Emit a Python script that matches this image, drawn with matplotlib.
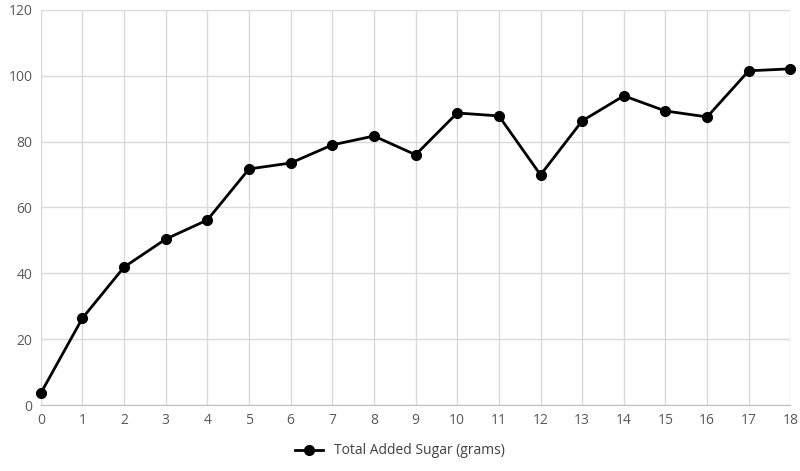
import matplotlib
matplotlib.use("Agg")
import matplotlib.pyplot as plt

x = list(range(19))
sugar = [3.6, 26.4, 41.9, 50.4, 56.2, 71.7, 73.5, 79.0, 81.7, 76.0, 88.7, 87.8, 69.9, 86.3, 93.9, 89.3, 87.5, 101.5, 102.1]

plt.rcParams['font.family'] = ['Open Sans', 'DejaVu Sans']
fig = plt.figure(figsize=(8, 4.71), dpi=100)
ax = fig.add_axes([0.051, 0.14, 0.937, 0.839])
ax.plot(x, sugar, color='black', lw=2, marker='o', ms=7, label='Total Added Sugar (grams)', clip_on=False, zorder=3)
ax.set_xlim(0, 18)
ax.set_ylim(0, 120)
ax.set_xticks(x)
ax.set_yticks(range(0, 121, 20))
ax.grid(True, color='#d9d9d9', lw=1)
ax.set_axisbelow(True)
for s in ['top', 'right', 'left']:
    ax.spines[s].set_visible(False)
ax.spines['bottom'].set_color('#bfbfbf')
ax.tick_params(length=0, labelsize=10, colors='#595959', pad=6)
fig.legend(loc='lower center', bbox_to_anchor=(0.5, 0.0), frameon=False, fontsize=10, labelcolor='#404040')
fig.savefig('out.png', dpi=100)
